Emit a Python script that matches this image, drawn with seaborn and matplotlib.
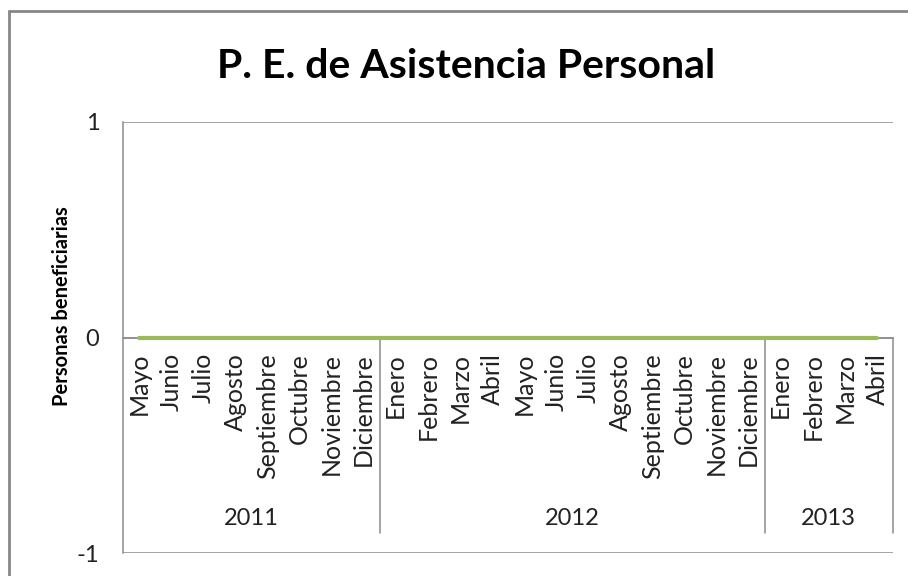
import matplotlib
matplotlib.use("Agg")
import matplotlib.pyplot as plt
import seaborn as sns
import pandas as pd
from matplotlib.lines import Line2D

months = ["Mayo", "Junio", "Julio", "Agosto", "Septiembre", "Octubre", "Noviembre", "Diciembre",
          "Enero", "Febrero", "Marzo", "Abril", "Mayo", "Junio", "Julio", "Agosto",
          "Septiembre", "Octubre", "Noviembre", "Diciembre",
          "Enero", "Febrero", "Marzo", "Abril"]
years = ["2011"] * 8 + ["2012"] * 12 + ["2013"] * 4
values = [0] * 24
y_ticks = [-1, 0, 1]

sns.set_theme(style="white")
plt.rcParams["font.family"] = ["Lato", "DejaVu Sans"]

df = pd.DataFrame({"idx": range(len(months)), "valor": values, "mes": months, "anio": years})

W, H = 908, 576
fig = plt.figure(figsize=(W / 100, H / 100), dpi=100)
fig.patch.set_facecolor("white")
L, R, T, B = 123, 893, 122, 553
ax = fig.add_axes([L / W, 1 - B / H, (R - L) / W, (B - T) / H])

gray = "#8c8c8c"
sns.lineplot(data=df, x="idx", y="valor", ax=ax, color="#9BBB59", linewidth=3.0, zorder=5)

ax.set_xlim(-0.5, len(months) - 0.5)
ax.set_ylim(-1, 1)
ax.set_yticks(y_ticks)
ax.set_yticklabels([str(v) for v in y_ticks], fontsize=17, color="#222222")
ax.yaxis.grid(True, color=gray, linewidth=1.1)
ax.xaxis.grid(False)
ax.set_axisbelow(True)

for s in ["top", "right"]:
    ax.spines[s].set_visible(False)
ax.spines["left"].set_color(gray)
ax.spines["left"].set_linewidth(1.1)
ax.spines["bottom"].set_position(("data", 0))
ax.spines["bottom"].set_color(gray)
ax.spines["bottom"].set_linewidth(1.1)

ax.set_xticks(list(df["idx"]))
ax.set_xticklabels(months, rotation=90, fontsize=18, color="#222222", va="top", ha="center")
ax.tick_params(axis="x", length=0, pad=11)
ax.tick_params(axis="y", length=0, pad=17)
ax.set_xlabel("")
ax.set_ylabel("")

# year groups
trans = ax.get_xaxis_transform()
groups = []
for i, yv in enumerate(years):
    if not groups or groups[-1][0] != yv:
        groups.append([yv, i, i])
    else:
        groups[-1][2] = i
for yv, a, b in groups:
    ax.text((a + b) / 2, 0.081, yv, transform=trans, ha="center", va="center",
            fontsize=17, color="#222222")
    ax.add_line(Line2D([b + 0.5, b + 0.5], [0.046, 0.5], transform=trans,
                       color=gray, linewidth=1.1, clip_on=False))

fig.text(62 / W, 1 - 306 / H, "Personas beneficiarias", rotation=90, ha="center", va="center",
         fontsize=14.5, fontweight="bold", color="#000000")
fig.text(466 / W, 1 - 67 / H, "P. E. de Asistencia Personal", ha="center", va="center",
         fontsize=29.5, fontweight="bold", color="#000000")

# outer chart border (left and top visible)
fig.add_artist(Line2D([9 / W, 9 / W], [0, 1 - 11 / H], transform=fig.transFigure, color="#878787", linewidth=2))
fig.add_artist(Line2D([9 / W, 1], [1 - 11 / H, 1 - 11 / H], transform=fig.transFigure, color="#878787", linewidth=2))

fig.savefig("out.png", dpi=100)
